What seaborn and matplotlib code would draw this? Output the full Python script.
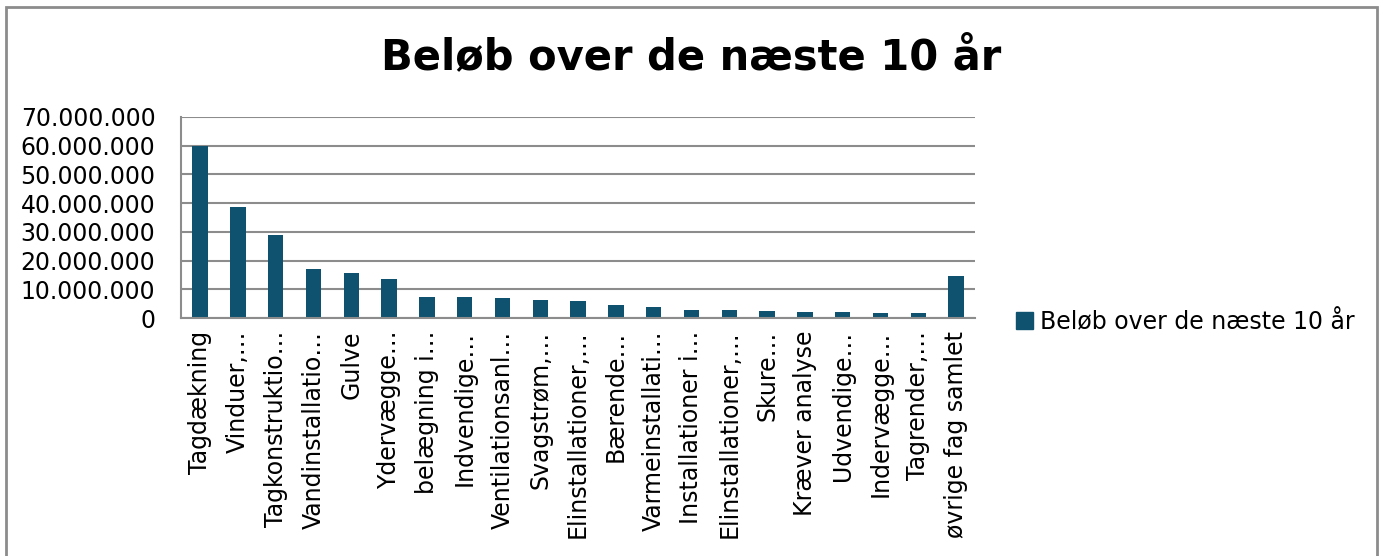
# Beløb over de næste 10 år - bar chart

import matplotlib
matplotlib.use("Agg")
import matplotlib.pyplot as plt
import matplotlib.ticker as mticker
import pandas as pd
import seaborn as sns

# === Data ===
categories = [
    "Tagdækning", "Vinduer,…", "Tagkonstruktio…", "Vandinstallatio…", "Gulve",
    "Ydervægge…", "belægning i…", "Indvendige…", "Ventilationsanl…", "Svagstrøm,…",
    "Elinstallationer,…", "Bærende…", "Varmeinstallati…", "Installationer i…",
    "Elinstallationer,…", "Skure…", "Kræver analyse", "Udvendige…", "Indervægge…",
    "Tagrender,…", "øvrige fag samlet",
]
amounts = [
    60_000_000, 38_500_000, 28_800_000, 17_000_000, 15_500_000,
    13_700_000, 7_400_000, 7_200_000, 6_900_000, 6_400_000,
    5_900_000, 4_500_000, 3_800_000, 2_900_000, 2_900_000,
    2_400_000, 2_200_000, 2_200_000, 1_900_000, 1_700_000,
    14_700_000,
]
series_name = "Beløb over de næste 10 år"
y_ticks = [0, 10_000_000, 20_000_000, 30_000_000, 40_000_000, 50_000_000, 60_000_000, 70_000_000]

df = pd.DataFrame({"pos": range(len(categories)), "amount": amounts})

# === Style ===
sns.set_style("white")
plt.rcParams["font.family"] = ["DejaVu Sans"]
plt.rcParams["text.color"] = "black"
plt.rcParams["xtick.color"] = "black"
plt.rcParams["ytick.color"] = "black"
bar_color = "#0E5270"
grid_color = "#8C8C8C"

fig = plt.figure(figsize=(13.83, 5.56), dpi=100)
ax = fig.add_axes([0.131, 0.428, 0.574, 0.362])

sns.barplot(data=df, x="pos", y="amount", color=bar_color, saturation=1,
            width=0.41, linewidth=0, ax=ax)

ax.set_ylim(0, 70_000_000)
ax.set_xlim(-0.5, len(categories) - 0.5)
ax.set_yticks(y_ticks)
ax.yaxis.set_major_formatter(mticker.FuncFormatter(lambda v, _: f"{int(v):,}".replace(",", ".")))
ax.set_xticks(range(len(categories)))
ax.set_xticklabels(categories, rotation=90, fontsize=17)
ax.tick_params(axis="x", length=0, pad=9, labelcolor="black")
ax.set_xticks([i - 0.5 for i in range(len(categories) + 1)], minor=True)
ax.tick_params(axis="x", which="minor", length=7, color=grid_color, width=1.5)
ax.tick_params(axis="y", labelsize=17, length=6.5, color=grid_color, width=1.5, pad=12,
               labelcolor="black")
ax.grid(axis="y", color=grid_color, linewidth=1.5)
ax.set_axisbelow(True)
ax.set_xlabel("")
ax.set_ylabel("")
for side in ["top", "right"]:
    ax.spines[side].set_visible(False)
for side in ["left", "bottom"]:
    ax.spines[side].set_color(grid_color)
    ax.spines[side].set_linewidth(1.5)

# legend
handle = plt.Rectangle((0, 0), 1, 1, color=bar_color)
fig.legend([handle], [series_name], loc="center left", bbox_to_anchor=(0.728, 0.421),
           frameon=False, fontsize=17, handlelength=0.7, handleheight=0.7,
           handletextpad=0.3, borderaxespad=0)

fig.suptitle(series_name, fontsize=30, fontweight="bold", x=0.5, y=0.897, va="center",
             color="black")

# chart border
fig.patches.append(plt.Rectangle((6 / 1383, -0.05), 1371 / 1383, 1.05 - 6.5 / 556,
                                 transform=fig.transFigure, fill=False,
                                 edgecolor="#8C8C8C", linewidth=2))

plt.savefig("out.png", dpi=100)
